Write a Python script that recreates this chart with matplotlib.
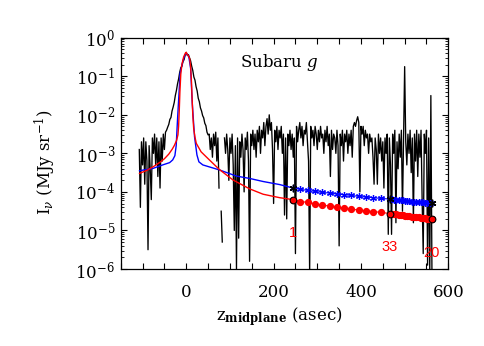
import numpy as np
import matplotlib
matplotlib.use("Agg")
import matplotlib.pyplot as plt
from matplotlib.ticker import LogLocator, NullFormatter, MultipleLocator, FixedLocator

plt.rcParams['font.family'] = ['DejaVu Serif']
plt.rcParams['mathtext.fontset'] = 'dejavuserif'

# ---------------- data ----------------
# observed profile (log10 I), sampled every 2.5 asec starting at z = -107.5
obs_z0 = -107.5
obs_dz = 2.5
obs_log = [
    # -107.5 .. -50
    -2.9, -4.4, -2.7, -3.3, -2.6, -3.8, -2.7, -3.2, -5.5, -2.8,
    -3.4, -4.2, -2.6, -3.0, -2.5, -3.3, -2.6, -3.6, -2.7, -3.9,
    -2.6, -3.2, -2.5, -2.9,
    # -47.5 .. 50
    -2.45, -2.4, -2.32, -2.25, -2.12, -2.07, -1.9, -1.8, -1.68, -1.5,
    -1.37, -1.2, -1.07, -0.9, -0.78, -0.74, -0.62, -0.57, -0.45, -0.38,
    -0.46, -0.44, -0.52, -0.6, -0.74, -0.85, -1.02, -1.1, -1.27, -1.38,
    -1.57, -1.66, -1.82, -1.9, -2.02, -2.08, -2.22, -2.28, -2.45, -2.52,
    # 52.5 .. 150
    -2.5, -2.9, -2.6, -3.1, -2.5, -2.8, -2.45, -3.2, -2.6, -3.9,
    np.nan, -4.5, -5.3, np.nan, -2.6, -3.0, -2.5, -2.9, -3.7, -2.6,
    -3.0, -2.5, -3.3, -5.0, -2.8, -6.0, -2.6, -5.2, -2.7, -3.1,
    -2.5, -2.9, -4.0, -2.6, -2.9, -2.45, -3.2, -5.8, -2.5, -2.8,
    # 152.5 .. 350
    -2.4, -2.9, -2.5, -3.1, -2.4, -2.7, -2.3, -3.0, -2.4, -2.6,
    -2.2, -2.8, -2.3, -2.1, -2.5, -2.0, -2.4, -2.2, -2.9, -4.3,
    -2.4, -2.7, -2.3, -2.9, -2.4, -2.6, -2.3, -3.0, -2.5, -4.6,
    -2.6, -4.7, -2.5, -2.8, -2.4, -2.9, -2.5, -3.1, -2.6, -5.6,
    -2.3, -2.7, -2.4, -2.2, -2.6, -2.3, -2.8, -2.4, -2.5, -2.2,
    -2.7, -3.2, -6.1, -2.3, -2.6, -2.4, -2.8, -2.3, -2.5, -2.9,
    -2.4, -2.7, -2.3, -2.6, -2.5, -3.0, -2.4, -2.7, -2.3, -2.8,
    -2.5, -3.6, -2.4, -2.9, -2.5, -2.6, -3.0, -2.4, -2.8, -5.4,
    # 352.5 .. 562.5
    -2.5, -2.8, -2.4, -3.2, -2.5, -2.7, -2.4, -3.0, -2.5, -2.8,
    -2.4, -3.1, -2.3, -2.2, -2.3, -2.15, -2.05, -2.2, -4.0, -2.3,
    -2.5, -2.3, -2.8, -2.4, -2.6, -2.5, -3.0, -2.5, -2.7, -2.6,
    -3.1, -3.8, -2.6, -2.9, -3.8, -2.5, -3.0, -2.6, -3.2, -2.7,
    -3.9, -2.6, -3.0, -2.5, -5.1, -2.6, -3.3, -5.1, -2.5, -3.0,
    -2.4, -4.8, -2.7, -3.4, -2.5, -3.1, -2.4, -4.5, -2.6, -0.75,
    -2.7, -3.3, -2.5, -3.0, -2.4, -3.5, -2.6, -4.8, -2.5, -3.2,
    -2.4, -3.6, -2.5, -3.1, -2.4, -4.2, -5.6, -2.5, -3.0, -2.4,
    -5.9, -2.6, -6.1, -1.5, -6.1,
]

# model 1 (red)
red_z = [-107, -90, -76, -60, -50, -40, -32, -27, -22, -19, -17.5, -16, -14.5,
         -12.5, -10, -6, -2, 0, 2, 5, 8, 10, 12, 13.5, 15, 17, 20, 23, 34, 53,
         76, 107, 145, 176, 214, 244.6]
red_log = [-3.52, -3.44, -3.35, -3.23, -3.14, -3.02, -2.89, -2.79, -2.66, -2.52,
           -2.3, -1.9, -1.4, -0.95, -0.7, -0.5, -0.4, -0.38, -0.43, -0.47,
           -0.55, -0.75, -1.15, -1.6, -2.0, -2.35, -2.58, -2.74, -2.96, -3.17,
           -3.42, -3.69, -3.92, -4.06, -4.15, -4.2]

# model 2 (blue)
blue_z = [-107, -76, -54, -38, -31, -26, -23, -20, -17, -14, -11.5, -7.6, -3,
          0, 3, 6, 10, 13.8, 19, 24.5, 29, 38, 76, 115, 145, 176, 214, 244.6]
blue_log = [-3.45, -3.39, -3.30, -3.24, -3.17, -3.06, -2.8, -2.13, -1.53, -0.92,
            -0.79, -0.6, -0.45, -0.4, -0.44, -0.5, -0.79, -1.7, -2.57, -3.04,
            -3.22, -3.30, -3.43, -3.59, -3.65, -3.73, -3.81, -3.90]

# binned points beyond z = 240
bin_z = [244.6, 261.3, 278.0, 294.7, 311.4, 328.1, 344.8, 361.5, 378.2, 394.9,
         411.6, 428.3, 445.0,
         466, 471, 476, 481, 486, 491, 496, 501, 506, 511, 517, 522, 527, 532,
         537, 542, 547, 552, 557, 562]
bin_red_log = [-4.20, -4.25, -4.27, -4.31, -4.34, -4.37, -4.39, -4.42, -4.45,
               -4.47, -4.49, -4.51, -4.53,
               -4.56, -4.57, -4.58, -4.58, -4.59, -4.60, -4.61, -4.62, -4.62,
               -4.63, -4.64, -4.65, -4.66, -4.66, -4.67, -4.68, -4.68, -4.69,
               -4.70, -4.70]
bin_blue_log = [-3.90, -3.935, -3.96, -3.987, -4.013, -4.03, -4.056, -4.073,
                -4.09, -4.116, -4.134, -4.151, -4.168,
                -4.185, -4.19, -4.20, -4.21, -4.21, -4.22, -4.22, -4.23, -4.24,
                -4.24, -4.25, -4.25, -4.26, -4.26, -4.27, -4.27, -4.28, -4.28,
                -4.29, -4.29]
edge_idx = [0, 13, 32]
edge_labels = ["1", "33", "20"]
edge_label_log = [-5.06, -5.44, -5.59]

xticks = [0, 200, 400, 600]

# ---------------- plot ----------------
fig = plt.figure(figsize=(4.85, 3.46), dpi=100)
ax = fig.add_axes([0.2489, 0.2225, 0.6755, 0.6685])

obs_z = obs_z0 + obs_dz * np.arange(len(obs_log))
ax.plot(obs_z, 10 ** np.array(obs_log), color='black', lw=0.95)
ax.plot(blue_z, 10 ** np.array(blue_log), color='blue', lw=1.0)
ax.plot(red_z, 10 ** np.array(red_log), color='red', lw=1.0)

bz = np.array(bin_z)
bb = 10 ** np.array(bin_blue_log)
br = 10 ** np.array(bin_red_log)
ax.plot(bz, bb, color='blue', lw=0.8, marker=(6, 2, 0), ms=5, mew=0.9,
        mec='blue', ls='-')
ax.plot(bz, br, color='red', lw=0.8, marker='o', ms=4.2, mec='red', mfc='red')
ax.plot(bz[edge_idx], bb[edge_idx], ls='none', marker=(6, 2, 0), ms=5.5,
        mew=1.0, mec='black')
ax.plot(bz[edge_idx], br[edge_idx], ls='none', marker='o', ms=4.8,
        mfc='red', mec='black', mew=0.8)
for i, lab, ly in zip(edge_idx, edge_labels, edge_label_log):
    ax.text(bz[i], 10 ** ly, lab, color='red', ha='center', va='center',
            fontsize=10.5, family='Liberation Sans')

ax.text(122, 10 ** -0.75, 'Subaru $g$', fontsize=12, va='baseline', ha='left')

ax.set_yscale('log')
ax.set_xlim(-150, 600)
ax.set_ylim(1e-6, 1)
ax.xaxis.set_major_locator(FixedLocator(xticks))
ax.xaxis.set_minor_locator(MultipleLocator(50))
ax.yaxis.set_major_locator(LogLocator(base=10, numticks=20))
ax.yaxis.set_minor_locator(LogLocator(base=10, subs=np.arange(2, 10), numticks=20))
ax.yaxis.set_minor_formatter(NullFormatter())

ax.tick_params(which='both', direction='in', top=True, right=True, labelsize=12)
ax.tick_params(axis='x', which='both', length=4.3, width=0.8, pad=11)
ax.tick_params(axis='y', which='major', length=4.3, width=0.8, pad=4)
ax.tick_params(axis='y', which='minor', length=2.2, width=0.6)
for s in ax.spines.values():
    s.set_linewidth(0.9)

ax.set_ylabel(r'I$_\nu$ (MJy sr$^{-1}$)', fontsize=12)
ax.yaxis.set_label_coords(-0.19, 0.46)
ax.set_xlabel(r'z$_{\mathbf{midplane}}$ (asec)', fontsize=12)
ax.xaxis.set_label_coords(0.483, -0.155)

fig.savefig('out.png', dpi=100)
